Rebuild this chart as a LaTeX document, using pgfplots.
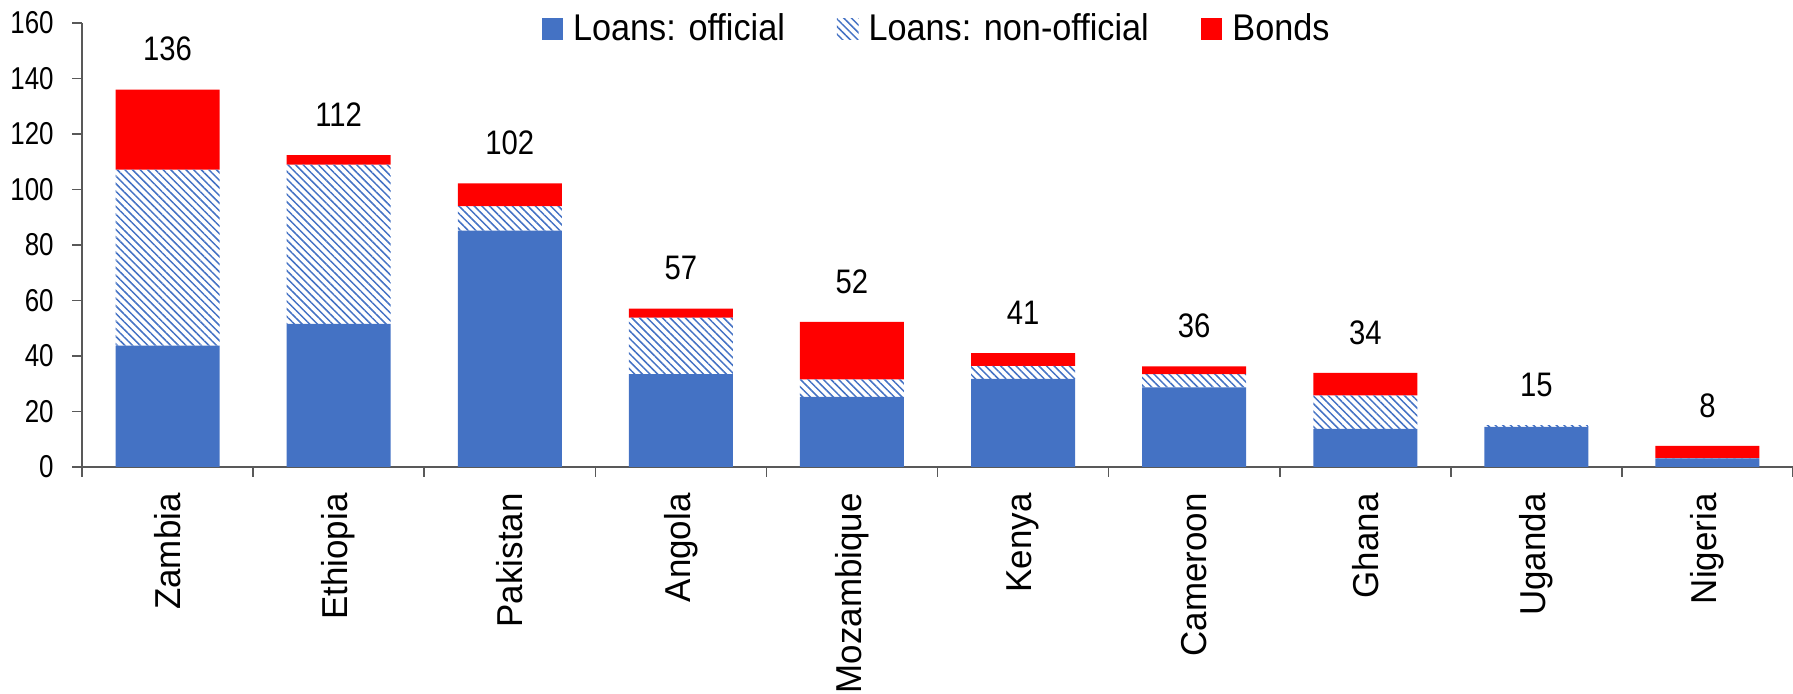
\documentclass[border=0pt]{standalone}
\usepackage{pgfplots}
\pgfplotsset{compat=1.18}
\usepackage{pgfplotstable}
\usepackage{fontspec}
\setmainfont{Liberation Sans}[FakeStretch=0.87]
\newfontfamily\fleg{Liberation Sans}[FakeStretch=0.92]
\newfontfamily\fxlab{Liberation Sans}[FakeStretch=0.97]
\newfontfamily\ftick{Liberation Sans}[FakeStretch=0.82]
\newfontfamily\fdat{Liberation Sans}[FakeStretch=0.86]
\usetikzlibrary{patterns.meta}
\definecolor{cblue}{HTML}{4472C4}
\definecolor{cred}{HTML}{FF0000}
\definecolor{axgray}{HTML}{595959}

\pgfplotstableread{
x official nonofficial bonds zero total
0 43.7 63.5 28.8 0.01 136
1 51.6 57.4 3.4 0.01 112
2 85.2 8.8 8.2 0.01 102
3 33.5 20.3 3.3 0.01 57
4 25.3 6.3 20.7 0.01 52
5 31.8 4.6 4.6 0.01 41
6 28.7 4.8 2.8 0.01 36
7 13.7 12.1 8.1 0.01 34
8 14.5 0.6 0.0 0.01 15
9 3.1 0.1 4.4 0.01 8
}\datatable

\begin{document}
\begin{tikzpicture}
\begin{axis}[
  name=ax,
  scale only axis,
  width=855.5pt, height=222pt,
  ybar stacked,
  bar width=52pt,
  xmin=-0.5, xmax=9.5,
  ymin=0, ymax=160,
  ytick={0,20,...,160},
  xtick={-0.5,0.5,...,9.5},
  xticklabels={},
  extra x ticks={0,1,2,3,4,5,6,7,8,9},
  extra x tick labels={Zambia,Ethiopia,Pakistan,Angola,Mozambique,Kenya,Cameroon,Ghana,Uganda,Nigeria},
  extra x tick style={major tick length=0pt,
    tick label style={rotate=90, anchor=east, inner sep=0pt, xshift=-13pt, font=\fxlab\fontsize{18}{22}\selectfont}},
  tick align=outside,
  major tick length=5pt,
  axis x line*=bottom,
  axis y line*=left,
  axis line style={axgray, line width=0.8pt, -},
  tick style={axgray, line width=0.8pt},
  yticklabel style={font=\ftick\fontsize{15.8}{19}\selectfont, inner sep=0pt, xshift=-9pt},
  /pgf/number format/assume math mode=true,
  clip=false,
  legend style={draw=none, fill=none, at={(0.5,1)}, anchor=center, yshift=-3pt,
    legend columns=3, font=\fleg\fontsize{18.6}{22}\selectfont,
    /tikz/every odd column/.append style={column sep=3pt},
    /tikz/every even column/.append style={column sep=24pt}},
]
\addplot[fill=cblue, draw=none,
  legend image code/.code={\fill[cblue] (0pt,-5.4pt) rectangle (10.8pt,5.4pt);}]
  table[x=x, y=official] {\datatable};
\addlegendentry{Loans: official}
\addplot[draw=none, pattern={Lines[angle=-45, distance=2.7pt, line width=0.75pt]}, pattern color=cblue,
  legend image code/.code={\fill[pattern={Lines[angle=-45, distance=2.7pt, line width=0.75pt]}, pattern color=cblue] (0pt,-5.4pt) rectangle (10.8pt,5.4pt);}]
  table[x=x, y=nonofficial] {\datatable};
\addlegendentry{Loans: non-official}
\addplot[fill=cred, draw=none,
  legend image code/.code={\fill[cred] (0pt,-5.4pt) rectangle (10.8pt,5.4pt);}]
  table[x=x, y=bonds] {\datatable};
\addlegendentry{Bonds}
\addplot[draw=none, fill=none, forget plot,
  point meta=explicit symbolic,
  nodes near coords,
  every node near coord/.append style={anchor=south, inner sep=0pt, yshift=14pt, black, font=\fdat\fontsize{17}{20}\selectfont}]
  table[x=x, y=zero, meta=total] {\datatable};
\end{axis}
\pgfresetboundingbox
\path[use as bounding box] ([xshift=-41pt,yshift=-113.5pt]ax.south west) rectangle ([yshift=11.5pt]ax.north east);
\end{tikzpicture}
\end{document}
